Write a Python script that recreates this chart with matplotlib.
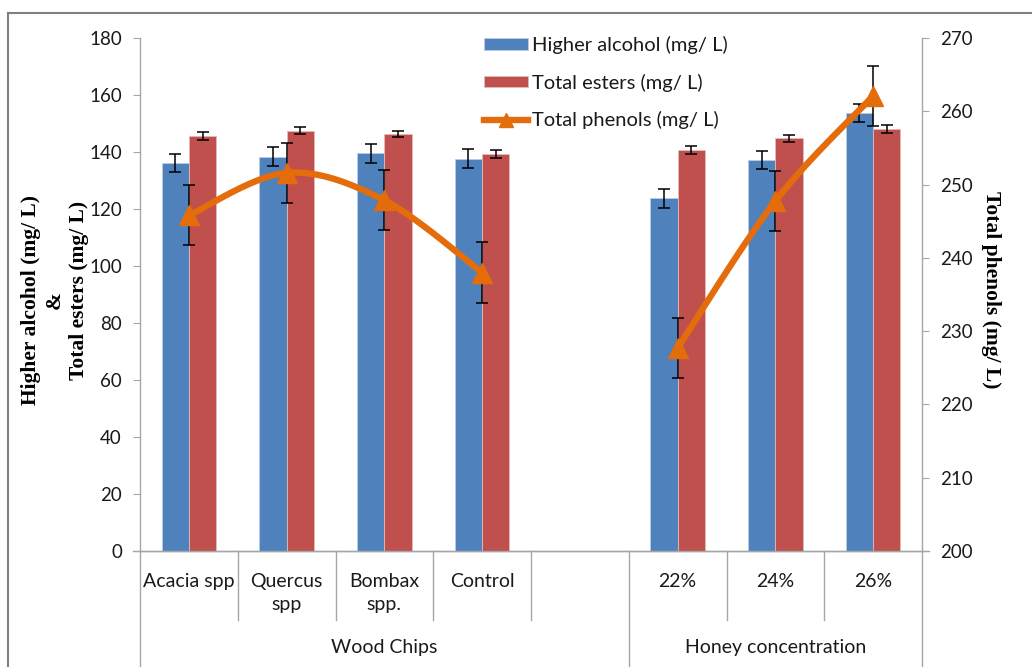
import numpy as np
import matplotlib
matplotlib.use("Agg")
import matplotlib.pyplot as plt
from matplotlib.lines import Line2D

categories = ["Acacia spp", "Quercus\nspp", "Bombax\nspp.", "Control", "", "22%", "24%", "26%"]
groups = ["Wood Chips", "Honey concentration"]
higher_alcohol = [136.2, 138.4, 139.5, 137.6, None, 123.8, 137.1, 153.7]
higher_alcohol_err = [3.2, 3.2, 3.3, 3.3, None, 3.3, 3.2, 3.3]
total_esters = [145.6, 147.4, 146.3, 139.3, None, 140.7, 144.8, 148.1]
total_esters_err = [1.3, 1.2, 1.1, 1.3, None, 1.4, 1.3, 1.3]
total_phenols = [245.8, 251.6, 247.85, 238.0, None, 227.7, 247.75, 262.1]
total_phenols_err = [4.1, 4.1, 4.1, 4.1, None, 4.1, 4.1, 4.1]

BLUE = "#4F81BD"
RED = "#C0504D"
ORANGE = "#E46C0A"
AXC = "#A6A6A6"
FONT = "Lato"

plt.rcParams['font.family'] = [FONT, 'DejaVu Sans']

W, H = 1032, 667
fig = plt.figure(figsize=(W / 100, H / 100), dpi=100)
ax = fig.add_axes([140 / W, (H - 551) / H, (922 - 140) / W, (551 - 38) / H])
ax2 = ax.twinx()

n = len(categories)
x = np.arange(n)
bw = 0.28

def present(vals, errs):
    idx = [i for i, v in enumerate(vals) if v is not None]
    return np.array(idx), np.array([vals[i] for i in idx]), np.array([errs[i] for i in idx])

ek = dict(ecolor="black", elinewidth=1.1, capsize=4.5, capthick=1.1)
i1, v1, e1 = present(higher_alcohol, higher_alcohol_err)
b1 = ax.bar(i1 - bw / 2, v1, bw, color=BLUE, edgecolor="#B9CDE5", linewidth=0.6,
            yerr=e1, error_kw=ek, label="Higher alcohol (mg/ L)", zorder=2)
i2, v2, e2 = present(total_esters, total_esters_err)
b2 = ax.bar(i2 + bw / 2, v2, bw, color=RED, edgecolor="#E6B9B8", linewidth=0.6,
            yerr=e2, error_kw=ek, label="Total esters (mg/ L)", zorder=2)

ax.set_xlim(-0.5, n - 0.5)
ax.set_ylim(0, 180)
ax.set_yticks(np.arange(0, 181, 20))
ax2.set_ylim(200, 270)
ax2.set_yticks(np.arange(200, 271, 10))

# Smoothed phenols line (Excel-like Catmull-Rom Bezier), segments broken at gaps
def smooth(px, py, steps=40):
    P = np.column_stack([px, py]).astype(float)
    m = len(P)
    out = []
    for i in range(m - 1):
        p0 = P[i - 1] if i > 0 else P[i]
        p1 = P[i]
        p2 = P[i + 1]
        p3 = P[i + 2] if i + 2 < m else P[i + 1]
        c1 = p1 + (p2 - p0) / 6
        c2 = p2 - (p3 - p1) / 6
        t = np.linspace(0, 1, steps)[:, None]
        seg = (1 - t) ** 3 * p1 + 3 * (1 - t) ** 2 * t * c1 + 3 * (1 - t) * t ** 2 * c2 + t ** 3 * p2
        out.append(seg if i == 0 else seg[1:])
    return np.vstack(out)

i3, v3, e3 = present(total_phenols, total_phenols_err)
ax2.errorbar(i3, v3, yerr=e3, fmt="none", **ek, zorder=3)
segments = []
cur = []
for i, v in enumerate(total_phenols):
    if v is None:
        if cur:
            segments.append(cur)
        cur = []
    else:
        cur.append(i)
if cur:
    segments.append(cur)
for seg in segments:
    curve = smooth(np.array(seg), np.array([total_phenols[i] for i in seg]))
    ax2.plot(curve[:, 0], curve[:, 1], color=ORANGE, lw=4.6, solid_capstyle="round", zorder=4)
ax2.plot(i3, v3, linestyle="none", marker="^", markersize=15, color=ORANGE, zorder=5)

# axes styling
for a in (ax, ax2):
    a.spines["top"].set_visible(False)
    for s in ("left", "right", "bottom"):
        a.spines[s].set_color(AXC)
        a.spines[s].set_linewidth(1.0)
ax.spines["right"].set_visible(False)
ax2.spines["left"].set_visible(False)
ax2.spines["bottom"].set_visible(False)
ax.tick_params(axis="y", direction="out", length=5, color=AXC, labelsize=13.5, pad=8, labelcolor="#1a1a1a")
ax2.tick_params(axis="y", direction="out", length=5, color=AXC, labelsize=13.5, pad=8, labelcolor="#1a1a1a")
ax.set_xticks([])
# extend bottom line beyond both axes like the reference
ax.plot([-0.57, n - 0.43], [0, 0], color=AXC, lw=1.0, clip_on=False, zorder=1)

trans = ax.get_xaxis_transform()
ah = 551 - 38
for i, c in enumerate(categories):
    ax.text(i, -(573 - 551) / ah, c, transform=trans, ha="center", va="top",
            fontsize=14, color="#1a1a1a", linespacing=1.45)
short_y = -(620 - 551) / ah
long_y = -(667 - 551) / ah
group_bounds = [-0.5, 4.5, 7.5]
for b in np.arange(-0.5, n, 1.0):
    yb = long_y if b in group_bounds else short_y
    ax.plot([b, b], [0, yb], transform=trans, color=AXC, lw=1.0, clip_on=False)
group_spans = [(-0.5, 4.5), (4.5, 7.5)]
for g, (a0, a1) in zip(groups, group_spans):
    ax.text((a0 + a1) / 2, -(648 - 551) / ah, g, transform=trans, ha="center", va="center",
            fontsize=14, color="#1a1a1a")

# axis labels
serif = ["Liberation Serif", "DejaVu Serif"]
fig.text(31 / W, 1 - 300 / H, "Higher alcohol (mg/ L)", rotation=90, ha="center", va="center",
         fontsize=15.5, fontweight="bold", family=serif)
fig.text(55 / W, 1 - 300 / H, "&", rotation=90, ha="center", va="center",
         fontsize=15.5, fontweight="bold", family=serif)
fig.text(79 / W, 1 - 290 / H, "Total esters (mg/ L)", rotation=90, ha="center", va="center",
         fontsize=15.5, fontweight="bold", family=serif)
fig.text(991 / W, 1 - 290 / H, "Total phenols (mg/ L)", rotation=270, ha="center", va="center",
         fontsize=15.5, fontweight="bold", family=serif)

# legend
handles = [b1, b2, Line2D([], [], color=ORANGE, lw=4.6, marker="^", markersize=10)]
labels = ["Higher alcohol (mg/ L)", "Total esters (mg/ L)", "Total phenols (mg/ L)"]
leg = fig.legend(handles, labels, loc="upper left", bbox_to_anchor=(470 / W, 1 - 22 / H),
                 frameon=False, fontsize=14.5, handlelength=2.2, handleheight=0.5,
                 labelspacing=0.97, handletextpad=0.2, borderpad=0.2)
for t in leg.get_texts():
    t.set_color("#1a1a1a")

# outer frame
fig.add_artist(Line2D([8 / W, 8 / W], [0, 1 - 13 / H], transform=fig.transFigure, color="#808080", lw=1.5))
fig.add_artist(Line2D([8 / W, 1], [1 - 13 / H, 1 - 13 / H], transform=fig.transFigure, color="#808080", lw=1.5))

fig.savefig("out.png", dpi=100)
